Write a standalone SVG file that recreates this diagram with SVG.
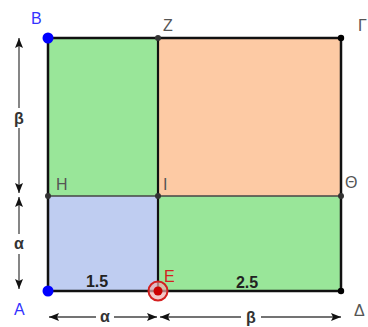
<svg xmlns="http://www.w3.org/2000/svg" width="368" height="327" viewBox="0 0 368 327">
<style>
.lbl{font-family:"Liberation Sans","DejaVu Sans",sans-serif;font-size:16px;fill:#555}
.blue{fill:#3333ff}
.red{fill:#d42020}
.num{font-family:"Liberation Sans","DejaVu Sans",sans-serif;font-size:16px;font-weight:bold;fill:#222}
.greek{font-family:"Liberation Sans","DejaVu Sans",sans-serif;font-size:16px;font-weight:bold;fill:#333}
.dim{stroke:#444;stroke-width:1.3;fill:none}
.pt{fill:#333}
.edge{stroke:#111;stroke-width:2.5;fill:none}
</style>
<defs>
<marker id="ah" viewBox="0 0 10 8" refX="10" refY="4" markerWidth="10" markerHeight="8" markerUnits="userSpaceOnUse" orient="auto-start-reverse">
<path d="M0,0 L10,4 L0,8 L2,4 Z" fill="#111"/>
</marker>
</defs>
<g id="region-BZIH"><rect x="48" y="38" width="110" height="158" fill="#99e699"/></g>
<g id="region-ZGThI"><rect x="158" y="38" width="183" height="158" fill="#fdcaa4"/></g>
<g id="region-HIEA"><rect x="48" y="196" width="110" height="95" fill="#bfcdf1"/></g>
<g id="region-IThDE"><rect x="158" y="196" width="183" height="95" fill="#99e699"/></g>
<g id="connectors">
<line x1="48" y1="196" x2="341" y2="196" stroke="#444" stroke-width="1.6"/>
<line x1="158" y1="38" x2="158" y2="291" stroke="#111" stroke-width="2.2"/>
<rect x="48" y="38" width="293" height="253" class="edge"/>
<line class="dim" x1="19" y1="108" x2="19" y2="38" marker-end="url(#ah)"/>
<line class="dim" x1="19" y1="128" x2="19" y2="193" marker-end="url(#ah)"/>
<line class="dim" x1="19" y1="234" x2="19" y2="197" marker-end="url(#ah)"/>
<line class="dim" x1="19" y1="254" x2="19" y2="289" marker-end="url(#ah)"/>
<line class="dim" x1="96" y1="317" x2="49" y2="317" marker-end="url(#ah)"/>
<line class="dim" x1="114" y1="317" x2="157" y2="317" marker-end="url(#ah)"/>
<line class="dim" x1="241" y1="317" x2="160" y2="317" marker-end="url(#ah)"/>
<line class="dim" x1="261" y1="317" x2="341" y2="317" marker-end="url(#ah)"/>
</g>
<g id="dim-labels">
<text class="greek" x="19" y="124" text-anchor="middle">β</text>
<text class="greek" x="19" y="249" text-anchor="middle">α</text>
<text class="greek" x="105" y="322" text-anchor="middle">α</text>
<text class="greek" x="251" y="323" text-anchor="middle">β</text>
<text class="num" x="97" y="287" text-anchor="middle">1.5</text>
<text class="num" x="247" y="288" text-anchor="middle">2.5</text>
</g>
<g id="point-B"><circle cx="48" cy="38" r="5.5" fill="#0000ff"/><text class="lbl blue" x="31" y="24">B</text></g>
<g id="point-Z"><circle cx="158" cy="38" r="3" class="pt"/><text class="lbl" x="163" y="31">Z</text></g>
<g id="point-G"><circle cx="341" cy="38" r="3.2" fill="#000"/><text class="lbl" x="358" y="31">Γ</text></g>
<g id="point-H"><circle cx="48" cy="196" r="3" class="pt"/><text class="lbl" x="56" y="190">H</text></g>
<g id="point-I"><circle cx="158" cy="196" r="3" class="pt"/><text class="lbl" x="163" y="190">I</text></g>
<g id="point-Th"><circle cx="341" cy="196" r="3" class="pt"/><text class="lbl" x="345" y="188">Θ</text></g>
<g id="point-A"><circle cx="48" cy="291" r="5.5" fill="#0000ff"/><text class="lbl blue" x="14" y="315">A</text></g>
<g id="point-E"><circle cx="158" cy="291" r="9.5" fill="#eeb0b0" fill-opacity="0.7" stroke="#d42020" stroke-width="2"/><circle cx="158" cy="291" r="4.5" fill="#cc0000"/><text class="lbl red" x="164" y="282">E</text></g>
<g id="point-D"><circle cx="341" cy="291" r="3.2" fill="#000"/><text class="lbl" x="354" y="316">Δ</text></g>
</svg>
